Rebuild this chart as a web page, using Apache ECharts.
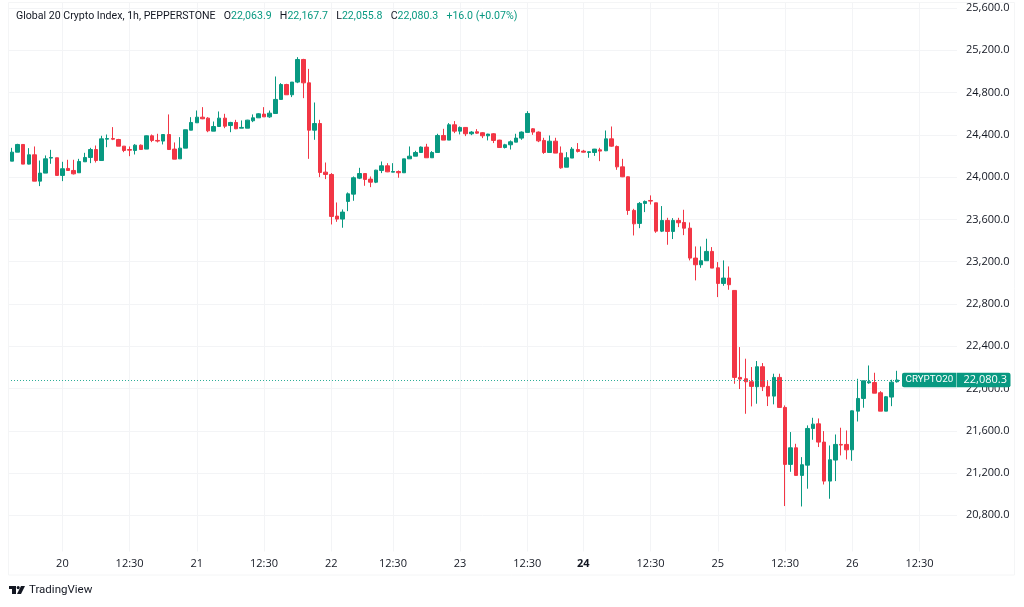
<!DOCTYPE html>
<html><head><meta charset="utf-8">
<style>html,body{margin:0;padding:0;background:#fff}#c{width:1024px;height:607px}</style>
<script src="https://cdn.jsdelivr.net/npm/echarts@6/dist/echarts.min.js"></script>
</head><body><div id="c"></div>
<script>
const FONT = '"Open Sans", sans-serif';
const FONT2 = 'Roboto, sans-serif';
const UP = '#089981', DOWN = '#F23645', TEXT = '#131722';
const priceTicks = [20800,21200,21600,22000,22400,22800,23200,23600,24000,24400,24800,25200,25600];
const timeTickBars = [9,21,33,45,57,68,80,92,102,114,126,138,150,162];
const timeTickLabels = ['20','12:30','21','12:30','22','12:30','23','12:30','24','12:30','25','12:30','26','12:30'];
const firstBar = -1;
const lastClose = 22080.3;
// open, close, low, high
const ohlc = [
[24031,24151,24031,24157],[24151,24236,24151,24277],[24236,24309,24236,24315],[24309,24123,24123,24309],
[24123,24211,24120,24274],[24211,23962,23962,24290],[23962,24038,23915,24157],[24038,24173,24038,24205],
[24180,24186,24126,24258],[24183,24016,24016,24183],[24016,24079,23962,24145],[24082,24063,24063,24164],
[24063,24031,24025,24164],[24041,24148,24041,24173],[24145,24186,24145,24230],[24186,24261,24132,24277],
[24261,24157,24138,24299],[24157,24362,24157,24391],[24359,24365,24283,24403],[24365,24359,24350,24473],
[24356,24293,24293,24362],[24293,24252,24236,24293],[24261,24255,24198,24290],[24252,24302,24214,24312],
[24302,24261,24261,24309],[24265,24391,24265,24394],[24391,24347,24331,24403],[24347,24341,24328,24410],
[24341,24403,24309,24403],[24403,24261,24258,24593],[24265,24170,24170,24328],[24173,24274,24173,24378],
[24274,24448,24274,24448],[24444,24517,24444,24567],[24514,24567,24514,24630],[24567,24552,24548,24662],
[24558,24438,24425,24567],[24435,24479,24435,24526],[24479,24558,24479,24621],[24558,24482,24463,24599],
[24488,24517,24425,24523],[24517,24457,24454,24542],[24463,24470,24463,24536],[24463,24539,24463,24542],
[24533,24561,24520,24593],[24561,24599,24561,24605],[24596,24570,24570,24662],[24570,24605,24561,24630],
[24602,24735,24602,24952],[24735,24876,24735,24889],[24876,24779,24779,24883],[24779,24899,24757,24899],
[24899,25113,24889,25135],[25113,24892,24747,25119],[24892,24444,24173,25024],[24444,24507,24353,24706],
[24507,24044,24000,24542],[24047,24025,23981,24138],[24025,23628,23552,24038],[23631,23603,23577,23760],
[23603,23669,23521,23694],[23770,23842,23678,23855],[23839,23994,23776,24006],[23990,24034,23981,24088],
[24034,23978,23918,24034],[23981,23952,23905,24006],[23952,24066,23943,24069],[24063,24107,24038,24148],
[24107,24050,24047,24132],[24047,24053,24047,24132],[24053,24041,23994,24063],[24041,24173,24041,24173],
[24173,24198,24173,24290],[24198,24233,24198,24249],[24233,24284,24233,24290],[24284,24183,24183,24315],
[24183,24233,24183,24246],[24233,24394,24233,24410],[24394,24350,24350,24457],[24350,24495,24350,24511],
[24495,24435,24416,24530],[24435,24470,24404,24479],[24470,24410,24388,24473],[24410,24426,24397,24435],
[24429,24416,24410,24454],[24420,24391,24369,24426],[24391,24407,24347,24410],[24410,24347,24322,24416],
[24350,24280,24277,24353],[24280,24306,24271,24315],[24306,24334,24261,24347],[24331,24369,24331,24410],
[24369,24426,24353,24432],[24423,24602,24423,24624],[24457,24426,24400,24463],[24426,24343,24331,24432],
[24347,24233,24220,24372],[24233,24340,24233,24394],[24340,24227,24227,24372],[24227,24088,24079,24290],
[24094,24183,24094,24236],[24180,24265,24180,24284],[24261,24243,24233,24322],[24246,24236,24233,24258],
[24233,24240,24183,24243],[24233,24265,24201,24267],[24258,24246,24151,24277],[24249,24362,24246,24441],
[24362,24293,24287,24479],[24290,24097,24069,24299],[24097,24003,24000,24173],[24003,23684,23643,24006],
[23685,23558,23448,23700],[23562,23751,23517,23764],[23751,23770,23669,23779],[23779,23773,23741,23827],
[23757,23489,23473,23757],[23489,23590,23480,23726],[23590,23486,23360,23615],[23486,23590,23414,23612],
[23590,23568,23527,23615],[23571,23517,23451,23691],[23517,23234,23212,23571],[23234,23171,23023,23344],
[23171,23209,23142,23344],[23209,23297,23209,23417],[23297,23139,23139,23338],[23142,22994,22865,23196],
[22994,23045,22972,23212],[23045,22982,22934,23155],[22928,22105,22045,22928],[22105,22089,21995,22392],
[22092,22064,21761,22282],[22064,22020,21831,22203],[22017,22206,21856,22260],[22206,22017,21976,22241],
[22020,21928,21834,22070],[21928,22105,21850,22140],[22105,21821,21818,22140],[21821,21282,20888,21840],
[21282,21439,21212,21588],[21439,21178,21178,21477],[21178,21279,20884,21351],[21275,21622,21052,21651],
[21622,21663,21515,21723],[21666,21493,21446,21717],[21493,21124,21092,21597],[21124,21326,20957,21461],
[21323,21471,21124,21565],[21471,21465,21367,21629],[21471,21420,21329,21603],[21420,21789,21316,21792],
[21786,21906,21688,22092],[21906,22073,21818,22076],[22054,22064,22045,22218],[22057,21956,21956,22149],
[21960,21786,21786,21975],[21786,21922,21786,21928],[21919,22060,21833,22083],[22063.9,22080.3,22055.8,22167.7]
];
const candleData = ohlc.map((r, i) => [i + firstBar, r[0], r[1], r[2], r[3]]);
const fmt = v => v.toLocaleString('en-US', {minimumFractionDigits: 1, maximumFractionDigits: 1});

const chart = echarts.init(document.getElementById('c'), null, {renderer: 'canvas'});
chart.setOption({
  animation: false,
  backgroundColor: '#fff',
  textStyle: {fontFamily: FONT},
  title: {
    left: 16, top: 11, padding: 0,
    text: '{n|Global 20 Crypto Index, 1h, PEPPERSTONE}   {k|O}{v|22,063.9}   {k|H}{v|22,167.7}   {k|L}{v|22,055.8}   {k|C}{v|22,080.3}   {v|+16.0 (+0.07%)}',
    textStyle: {
      fontFamily: FONT2, fontSize: 11, fontWeight: 'normal',
      rich: {
        n: {fontFamily: FONT2, fontSize: 10.6, color: TEXT},
        k: {fontFamily: FONT2, fontSize: 10.6, color: TEXT},
        v: {fontFamily: FONT2, fontSize: 10.6, color: UP}
      }
    }
  },
  grid: {left: 8, right: 67, top: 2.5, bottom: 55.5},
  xAxis: {
    type: 'value', min: -0.71, max: 168.7,
    axisLine: {show: false},
    axisTick: {show: false, customValues: timeTickBars},
    splitLine: {show: true, lineStyle: {color: '#f3f4f6', width: 1}},
    axisLabel: {
      customValues: timeTickBars, margin: 7, color: TEXT, fontSize: 11, fontFamily: FONT,
      formatter: v => {
        const s = timeTickLabels[timeTickBars.indexOf(v)];
        return s === '24' ? '{b|24}' : s;
      },
      rich: {b: {fontWeight: 'bold', fontSize: 11, fontFamily: FONT, color: TEXT}}
    }
  },
  yAxis: {
    type: 'value', position: 'right', min: 20458, max: 25652, scale: true,
    axisLine: {show: false},
    axisTick: {show: false, customValues: priceTicks},
    splitLine: {show: true, lineStyle: {color: '#f3f4f6', width: 1}},
    axisLabel: {customValues: priceTicks, inside: false, margin: 9, color: TEXT, fontSize: 11, fontFamily: FONT, formatter: v => fmt(v)}
  },
  series: [{
    type: 'candlestick',
    barWidth: 4,
    clip: true,
    encode: {x: 0, y: [1, 2, 3, 4]},
    data: candleData,
    itemStyle: {color: UP, color0: DOWN, borderColor: UP, borderColor0: DOWN, borderWidth: 1},
    markLine: {
      silent: true, symbol: 'none', animation: false,
      lineStyle: {color: UP, type: [1, 2], width: 1, opacity: 1},
      data: [{yAxis: lastClose, lineStyle: {color: '#2fae98', type: [1, 2], width: 1}}],
      label: {
        show: true, position: 'end', distance: 0, offset: [-55, 0],
        formatter: '{a|CRYPTO20}{s| }{b|' + fmt(lastClose) + '}',
        rich: {
          a: {backgroundColor: UP, color: '#fff', fontSize: 9.8, fontFamily: FONT2, padding: [1.5, 0, 1.5, 3.5], width: 50.5, height: 11.5, lineHeight: 12, borderRadius: [2, 0, 0, 2]},
          s: {backgroundColor: '#7fcbbd', width: 1, height: 11.5, padding: [1.5, 0, 1.5, 0], fontSize: 1},
          b: {backgroundColor: UP, color: '#fff', fontSize: 11, fontFamily: FONT, padding: [1.5, 0, 1.5, 6.5], width: 47, height: 11.5, lineHeight: 12, borderRadius: [0, 2, 2, 0]}
        }
      }
    }
  }],
  graphic: [
    {type: 'rect', z: 50, shape: {x: 0, y: 0, width: 8, height: 607}, style: {fill: '#fff'}},
    {type: 'rect', z: 51, shape: {x: 8.5, y: 2.5, width: 1006, height: 572.5}, style: {fill: 'none', stroke: '#f4f5f6', lineWidth: 1}},
    {type: 'rect', z: 52, shape: {x: 9, y: 586, width: 7, height: 3}, style: {fill: TEXT}},
    {type: 'rect', z: 52, shape: {x: 12, y: 586, width: 4, height: 8}, style: {fill: TEXT}},
    {type: 'circle', z: 52, shape: {cx: 18.2, cy: 587.6, r: 1.6}, style: {fill: TEXT}},
    {type: 'polygon', z: 52, shape: {points: [[21, 586], [25, 586], [21, 594], [17, 594]]}, style: {fill: TEXT}},
    {type: 'text', z: 52, x: 29, y: 584.5, style: {text: 'TradingView', font: '11.5px ' + FONT2, fill: TEXT}}
  ]
});
</script></body></html>
